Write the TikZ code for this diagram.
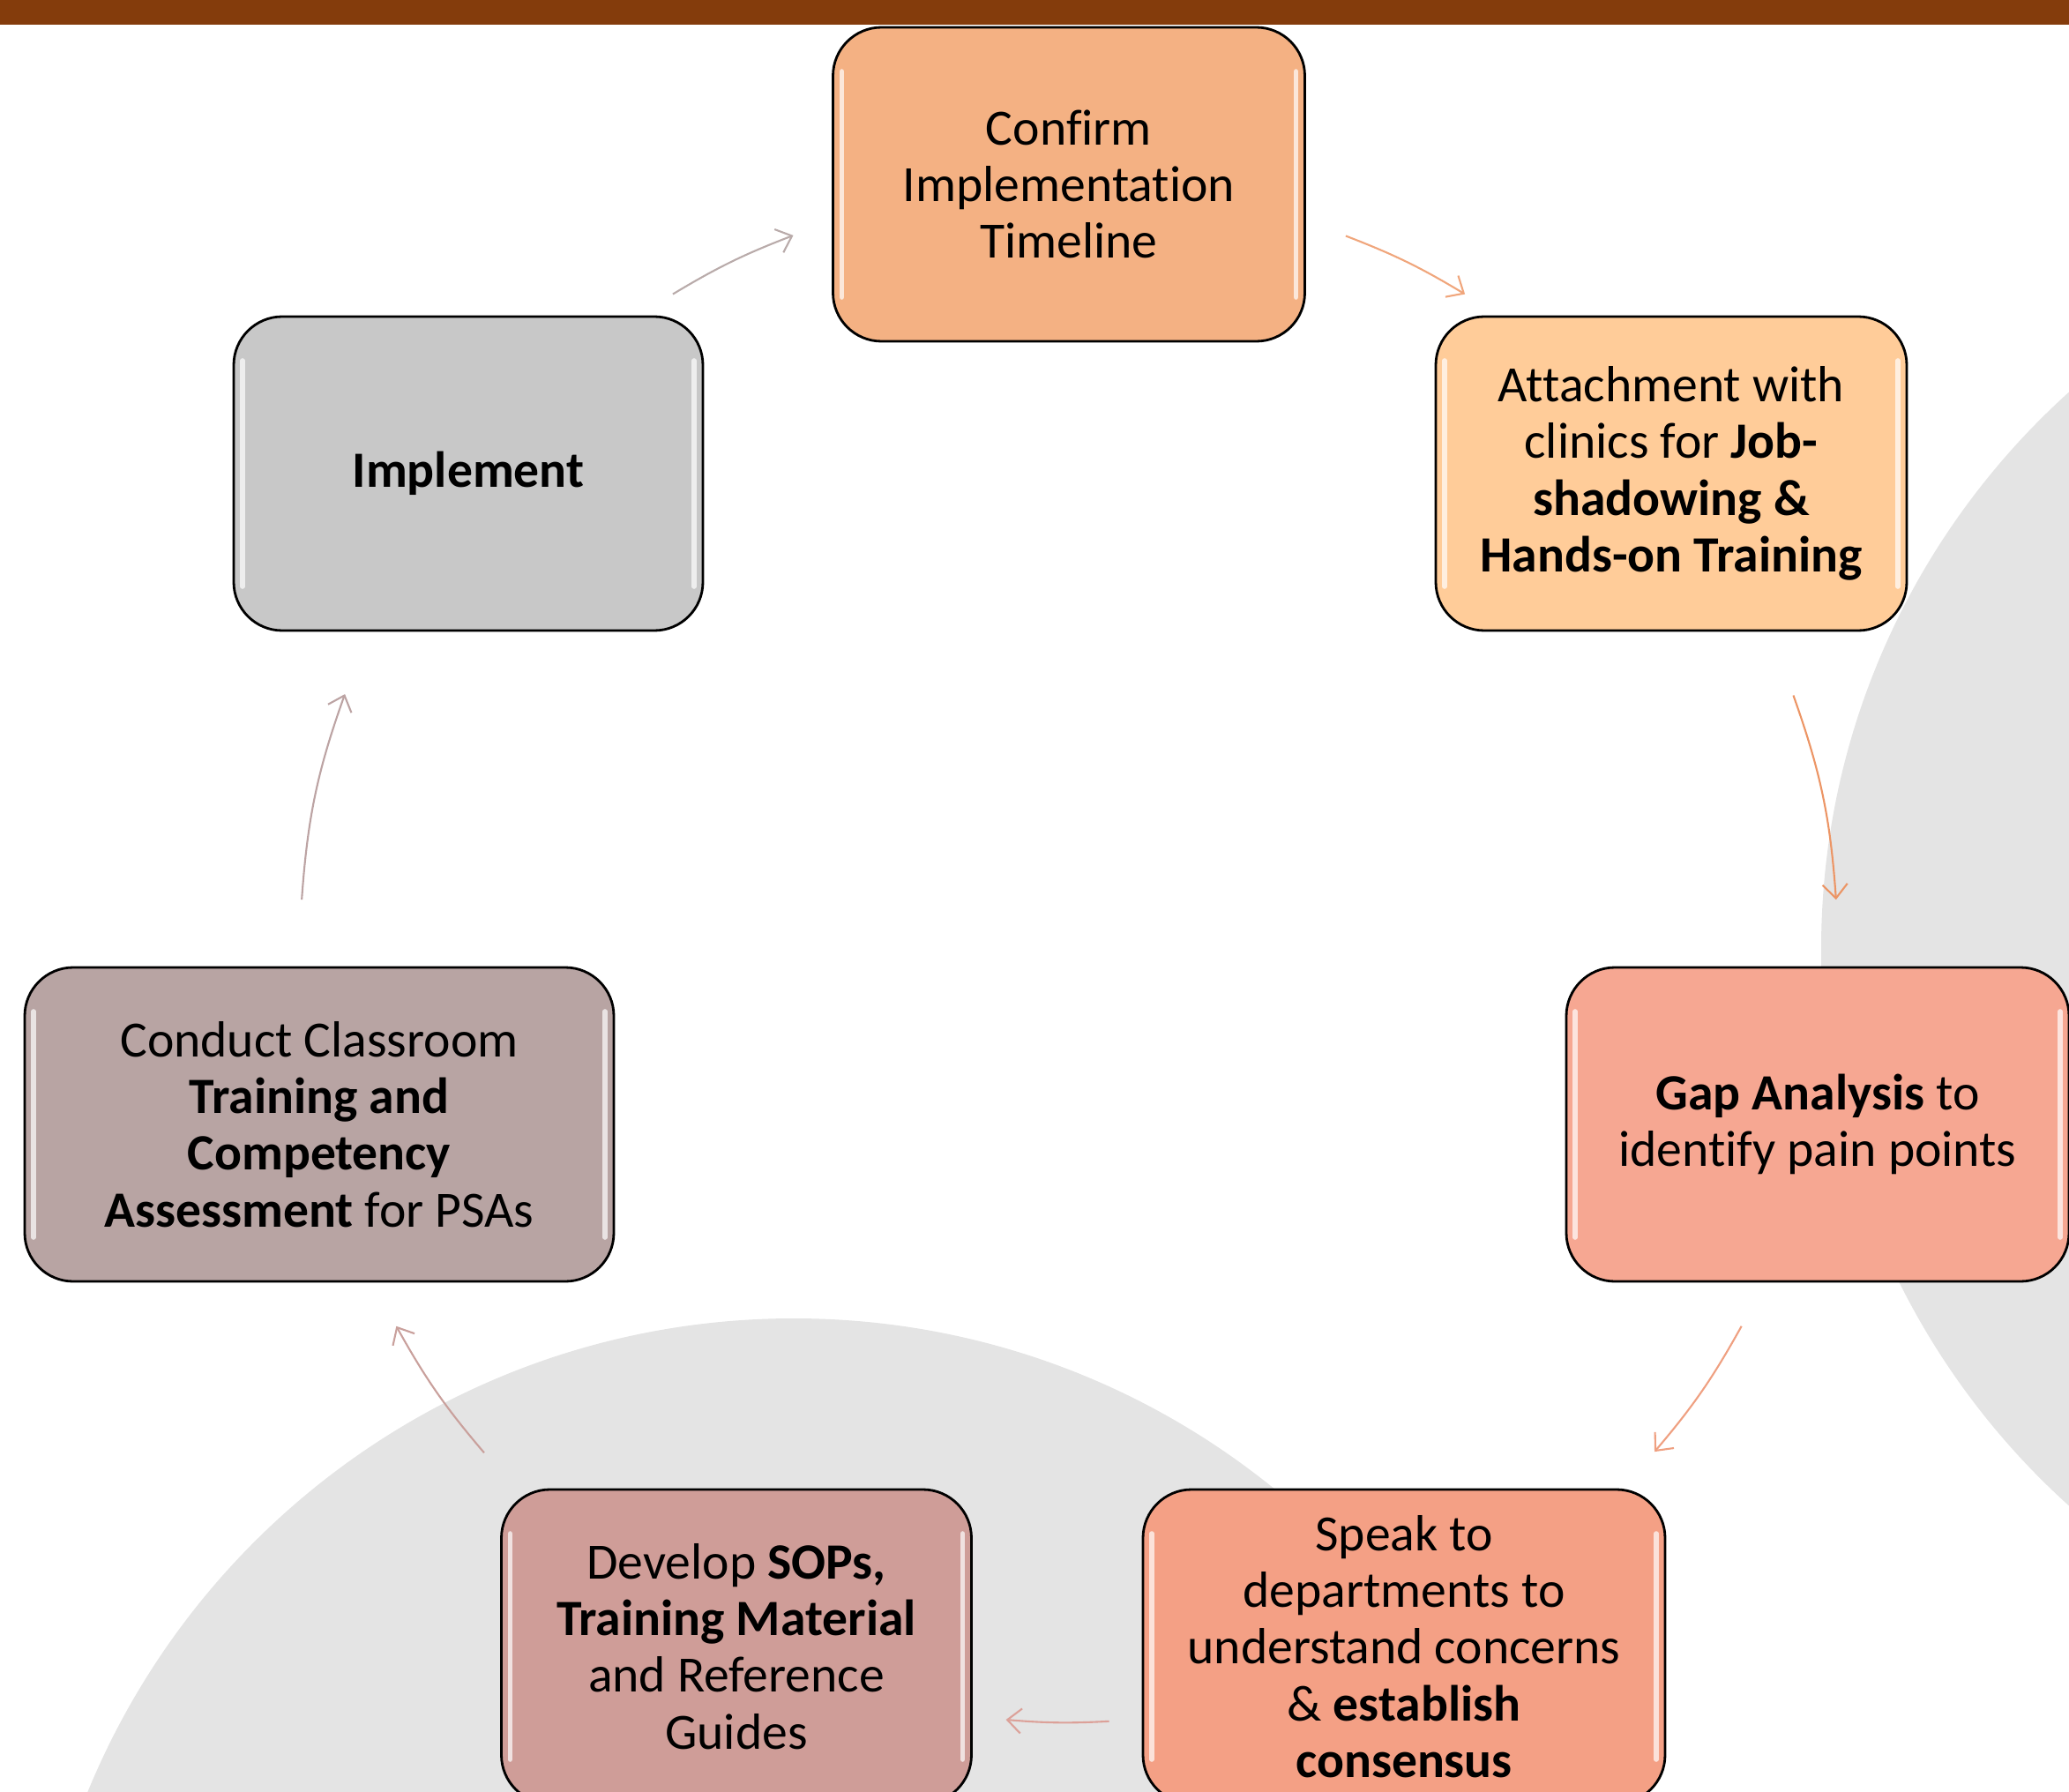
\documentclass[tikz,border=0pt]{standalone}
\usepackage{fontspec}
\setmainfont{Carlito}[Ligatures=NoCommon]
\usetikzlibrary{arrows.meta}

\definecolor{barbrown}{HTML}{843C0C}
\definecolor{backgray}{HTML}{E4E4E4}
\definecolor{confirmfill}{HTML}{F4B183}
\definecolor{attachfill}{HTML}{FFCC99}
\definecolor{gapfill}{HTML}{F6A792}
\definecolor{speakfill}{HTML}{F4A085}
\definecolor{developfill}{HTML}{CF9D98}
\definecolor{conductfill}{HTML}{B8A4A3}
\definecolor{implfill}{HTML}{C8C8C8}
\definecolor{arrowA}{HTML}{B9ABAA}
\definecolor{arrowB}{HTML}{F0A67C}
\definecolor{arrowC}{HTML}{EC9565}
\definecolor{arrowD}{HTML}{EFA081}
\definecolor{arrowE}{HTML}{DCA199}
\definecolor{arrowF}{HTML}{C9A09C}
\definecolor{arrowG}{HTML}{BCA3A3}

\tikzset{
  stepbox/.style={draw=black, line width=0.8pt, rounded corners=0.55cm,
    minimum height=3.56cm, inner sep=0pt, align=center,
    font=\fontsize{16.4}{18.3}\selectfont,
    path picture={
      \draw[white, opacity=0.7, line width=1.6pt, line cap=round]
        ([xshift=0.1cm,yshift=-0.5cm]path picture bounding box.north west)
        -- ([xshift=0.1cm,yshift=0.5cm]path picture bounding box.south west);
      \draw[white, opacity=0.7, line width=1.6pt, line cap=round]
        ([xshift=-0.1cm,yshift=-0.5cm]path picture bounding box.north east)
        -- ([xshift=-0.1cm,yshift=0.5cm]path picture bounding box.south east);
    }},
  flow/.style={-{Straight Barb[length=4.5pt,width=8pt]}, line width=0.6pt},
}

\begin{document}
\begin{tikzpicture}
    \clip (0,0) rectangle (23.46,-20.32);
    % background circles and top bar
    \fill[backgray] (9.0,-23.6) circle (8.65);
    \fill[backgray] (29.15,-10.76) circle (8.50);
    \fill[barbrown] (0,0) rectangle (23.46,-0.28);

    \node[stepbox, fill=confirmfill, minimum width=5.35cm] (confirm) at (12.12,-2.09)
        {Confirm\\Implementation\\Timeline};
    \node[stepbox, fill=attachfill, minimum width=5.34cm] (attach) at (18.95,-5.37)
        {Attachment with\\clinics for \textbf{Job-}\\\textbf{shadowing \&}\\\textbf{Hands-on Training}};
    \node[stepbox, fill=gapfill, minimum width=5.70cm] (gap) at (20.61,-12.75)
        {\textbf{Gap Analysis} to\\identify pain points};
    \node[stepbox, fill=speakfill, minimum width=5.92cm] (speak) at (15.92,-18.67)
        {Speak to\\departments to\\understand concerns\\\& \textbf{establish}\\\textbf{consensus}};
    \node[stepbox, fill=developfill, minimum width=5.33cm] (develop) at (8.35,-18.67)
        {Develop \textbf{SOPs,}\\\textbf{Training Material}\\and Reference\\Guides};
    \node[stepbox, fill=conductfill, minimum width=6.68cm] (conduct) at (3.62,-12.75)
        {Conduct Classroom\\\textbf{Training and}\\\textbf{Competency}\\\textbf{Assessment} for PSAs};
    \node[stepbox, fill=implfill, minimum width=5.32cm] (implement) at (5.31,-5.37)
        {\textbf{Implement}};

    % arrow ends on the ring round the hub
    \coordinate (hub) at (12.12,-10.81);
    \coordinate (a1) at ([shift={(121:8.72)}]hub);
    \coordinate (b1) at ([shift={(111:8.72)}]hub);
    \coordinate (a2) at ([shift={(68.9:8.72)}]hub);
    \coordinate (b2) at ([shift={(59:8.72)}]hub);
    \coordinate (a3) at ([shift={(19.6:8.72)}]hub);
    \coordinate (b3) at ([shift={(4:8.72)}]hub);
    \coordinate (a4) at ([shift={(-29:8.72)}]hub);
    \coordinate (b4) at ([shift={(-40.4:8.72)}]hub);
    \coordinate (a5) at ([shift={(-87:8.72)}]hub);
    \coordinate (b5) at ([shift={(-94.7:8.72)}]hub);
    \coordinate (a6) at ([shift={(-139.5:8.72)}]hub);
    \coordinate (b6) at ([shift={(-151:8.72)}]hub);
    \coordinate (a7) at ([shift={(176:8.72)}]hub);
    \coordinate (b7) at ([shift={(160.3:8.72)}]hub);

    \draw[flow, arrowA] (a1) to[bend left=5] (b1);
    \draw[flow, arrowB] (a2) to[bend left=5] (b2);
    \draw[flow, arrowC] (a3) to[bend left=7.8] (b3);
    \draw[flow, arrowD] (a4) to[bend left=5.7] (b4);
    \draw[flow, arrowE] (a5) to[bend left=3.9] (b5);
    \draw[flow, arrowF] (a6) to[bend left=5.7] (b6);
    \draw[flow, arrowG] (a7) to[bend left=7.8] (b7);
\end{tikzpicture}
\end{document}
